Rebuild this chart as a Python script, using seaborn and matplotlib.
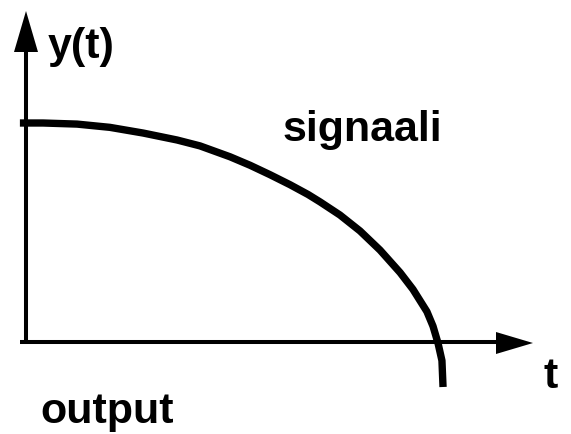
import matplotlib
matplotlib.use("Agg")
import matplotlib.pyplot as plt
import seaborn as sns
import pandas as pd
from matplotlib.patches import Polygon

# Curve (t, y) with y(0)=1
t_vals = [-0.028, 0.078, 0.234, 0.385, 0.537, 0.693, 0.798, 0.936, 1.028, 1.119,
          1.211, 1.294, 1.349, 1.440, 1.532, 1.624, 1.716, 1.775, 1.839, 1.867,
          1.890, 1.908, 1.913]
y_vals = [1.000, 1.000, 0.995, 0.980, 0.954, 0.922, 0.895, 0.845, 0.806, 0.763,
          0.717, 0.672, 0.638, 0.578, 0.505, 0.417, 0.314, 0.237, 0.135, 0.068,
          -0.010, -0.090, -0.211]

y_label = "y(t)"
x_label = "t"
curve_label = "signaali"
caption = "output"

sns.set_theme(style="white")
plt.rcParams['font.family'] = ['Liberation Sans', 'DejaVu Sans']

W, H = 571, 435
fig = plt.figure(figsize=(W / 100, H / 100), dpi=100)
ax = fig.add_axes([0, 0, 1, 1])

# pixel layout: origin at (26, 342), 218 px per unit
OX, OY, S = 26, 342, 218.0
def P(px, py):
    return ((px - OX) / S, (OY - py) / S)

ax.set_xlim(P(0, 0)[0], P(W, 0)[0])
ax.set_ylim(P(0, H)[1], P(0, 0)[1])
ax.axis("off")

df = pd.DataFrame({"t": t_vals, "y": y_vals})
sns.lineplot(data=df, x="t", y="y", sort=False, color="black", linewidth=5.3,
             ax=ax, solid_capstyle="butt", solid_joinstyle="round")

# axes lines
xa0, xa1 = P(20, 343), P(498, 343)
ax.plot([xa0[0], xa1[0]], [xa0[1], xa1[1]], color="black", lw=2.9, solid_capstyle="butt")
ya0, ya1 = P(26, 345), P(26, 50)
ax.plot([ya0[0], ya1[0]], [ya0[1], ya1[1]], color="black", lw=2.9, solid_capstyle="butt")

# arrow heads
ax.add_patch(Polygon([P(533, 344), P(496, 333), P(496, 355)], closed=True, color="black", lw=0))
ax.add_patch(Polygon([P(26, 12), P(14, 53), P(38, 53)], closed=True, color="black", lw=0))

# texts
fs = 31
kw = dict(fontsize=fs, fontweight="bold", color="black", ha="left", va="baseline")
ax.text(*P(48, 58), y_label, **kw)
ax.text(*P(544, 388), x_label, **kw)
ax.text(*P(283, 141), curve_label, **kw)
ax.text(*P(40, 423), caption, **kw)

fig.savefig("out.png", dpi=100)
